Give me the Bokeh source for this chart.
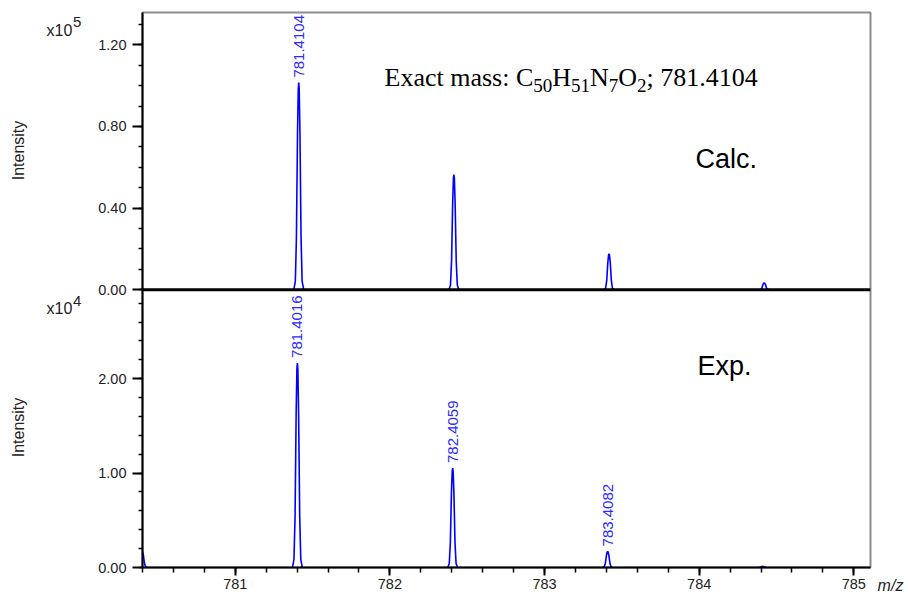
import numpy as np
from bokeh.plotting import figure
from bokeh.layouts import row
from bokeh.models import Range1d, FixedTicker, Label, Span, ColumnDataSource
from bokeh.embed import file_html
from bokeh.resources import INLINE
from bokeh.core.properties import value

# ---------------- data ----------------
# calculated isotope pattern (intensity in units of 1e5)
calc_mz = [781.4104, 782.4138, 783.4171, 784.4205]
calc_int = [1.015, 0.564, 0.175, 0.033]
calc_labels = ["781.4104", "", "", ""]

# experimental spectrum (intensity in units of 1e4)
exp_mz = [780.398, 781.4016, 782.4059, 783.4082, 784.410]
exp_int = [0.17, 2.167, 1.054, 0.170, 0.012]
exp_labels = ["", "781.4016", "782.4059", "783.4082", ""]

# peak profile: m/z offset from centre, relative height
profile_dx = [-0.032, -0.022, -0.015, -0.008, -0.003, 0.0, 0.003, 0.008, 0.015, 0.022, 0.032]
profile_rel = [0.0, 0.04, 0.25, 0.75, 0.97, 1.0, 0.97, 0.75, 0.25, 0.04, 0.0]

x_major = [781, 782, 783, 784, 785]
x_minor = [780.4, 780.6, 780.8, 781.0, 781.2, 781.4, 781.6, 781.8, 782.0, 782.2, 782.4,
           782.6, 782.8, 783.0, 783.2, 783.4, 783.6, 783.8, 784.0, 784.2, 784.4, 784.6,
           784.8, 785.0]
top_major = [0.0, 0.4, 0.8, 1.2]
top_minor = [0.0, 0.1, 0.2, 0.3, 0.4, 0.5, 0.6, 0.7, 0.8, 0.9, 1.0, 1.1, 1.2, 1.3]
bot_major = [0.0, 1.0, 2.0]
bot_minor = [0.0, 0.2, 0.4, 0.6, 0.8, 1.0, 1.2, 1.4, 1.6, 1.8, 2.0, 2.2, 2.4, 2.6, 2.8]

X_RANGE = (780.4, 785.108)
# one frame holds both panels: the top panel's range reaches below zero (into the
# lower half), the bottom panel's range reaches above its top (into the upper half)
TOP_RANGE = (-1.362, 1.3585)
BOT_RANGE = (0.0, 5.88)

PEAK_COLOR = "#0000ff"
LABEL_COLOR = "#2b2bff"
SANS = "Liberation Sans"
SERIF = "Liberation Serif"
TXT = "#222222"


def peak_lines(centres, heights):
    xs, ys = [], []
    for c, h in zip(centres, heights):
        xs.append([c + d for d in profile_dx])
        ys.append([h * r for r in profile_rel])
    return xs, ys


def to_shared(v):
    """position of a top-panel value on the shared (bottom-range) axis"""
    t0, t1 = TOP_RANGE
    b0, b1 = BOT_RANGE
    return b0 + (v - t0) / (t1 - t0) * (b1 - b0)


# ---------------- main figure ----------------
p = figure(width=777, height=600, output_backend="svg", toolbar_location=None,
           x_range=Range1d(*X_RANGE), y_range=Range1d(*BOT_RANGE),
           min_border_left=47, min_border_right=2, min_border_top=12, min_border_bottom=33)
p.extra_y_ranges = {"top": Range1d(*TOP_RANGE)}
p.xgrid.visible = False
p.ygrid.visible = False
p.outline_line_color = "#8c8c8c"
p.outline_line_width = 2

# y axis (carries the tick marks of both panels)
ya = p.yaxis[0]
y_ticks = list(bot_major) + [to_shared(t) for t in top_major]
y_minor = list(bot_minor) + [to_shared(t) for t in top_minor]
overrides = {float(v): f"{v:.2f}" for v in bot_major}
overrides.update({to_shared(t): f"{t:.2f}" for t in top_major})
ya.ticker = FixedTicker(ticks=y_ticks, minor_ticks=y_minor)
ya.major_label_overrides = overrides
for ax in (ya, p.xaxis[0]):
    ax.axis_line_color = "black"
    ax.axis_line_width = 2
    ax.major_tick_in = 0
    ax.minor_tick_in = 0
    ax.major_tick_line_width = 2
    ax.minor_tick_line_width = 1.5
    ax.major_tick_line_color = "black"
    ax.minor_tick_line_color = "black"
    ax.major_label_text_font = SANS
    ax.major_label_text_font_size = "14.5px"
    ax.major_label_text_color = TXT
ya.major_tick_out = 10
ya.minor_tick_out = 4
ya.major_label_standoff = 6

xa = p.xaxis[0]
xa.ticker = FixedTicker(ticks=x_major, minor_ticks=x_minor)
xa.major_tick_out = 8
xa.minor_tick_out = 5
xa.major_label_standoff = 3

# calculated spectrum (upper panel)
xs, ys = peak_lines(calc_mz, calc_int)
p.multi_line(xs, ys, line_color=PEAK_COLOR, line_width=1.6, y_range_name="top")
src1 = ColumnDataSource(dict(x=calc_mz, y=calc_int, t=calc_labels))
p.text(x="x", y="y", text="t", source=src1, angle=np.pi / 2, text_align="left",
       text_baseline="middle", y_offset=-5, text_color=LABEL_COLOR,
       text_font=value(SANS), text_font_size="15px", y_range_name="top")

# experimental spectrum (lower panel)
xs, ys = peak_lines(exp_mz, exp_int)
p.multi_line(xs, ys, line_color=PEAK_COLOR, line_width=1.6)
src2 = ColumnDataSource(dict(x=exp_mz, y=exp_int, t=exp_labels))
p.text(x="x", y="y", text="t", source=src2, angle=np.pi / 2, text_align="left",
       text_baseline="middle", y_offset=-5, text_color=LABEL_COLOR,
       text_font=value(SANS), text_font_size="15px")

# panel separator (x axis line of the upper panel)
p.add_layout(Span(location=0, dimension="width", y_range_name="top",
                  line_color="black", line_width=3))

# "Exact mass: C50H51N7O2; 781.4104" composed from pieces (subscripts smaller)
TNR_W = {"E": 611, "x": 500, "a": 444, "c": 444, "t": 278, " ": 250, "m": 778,
         "s": 389, ":": 278, "C": 667, "H": 722, "N": 722, "O": 722, ";": 278,
         ".": 250, "0": 500, "1": 500, "2": 500, "4": 500, "5": 500, "7": 500, "8": 500}
pieces = [("Exact mass: C", False), ("50", True), ("H", False), ("51", True),
          ("N", False), ("7", True), ("O", False), ("2", True), ("; 781.4104", False)]
FS_MAIN, FS_SUB = 26, 19
cx = 242.0
for txt, sub in pieces:
    fs = FS_SUB if sub else FS_MAIN
    p.add_layout(Label(x=cx, y=(482 if sub else 490), x_units="screen", y_units="screen",
                       text=txt, text_font=SERIF, text_font_size=f"{fs}px",
                       text_color="black", text_baseline="middle"))
    cx += sum(TNR_W[ch] for ch in txt) * fs / 1000.0

p.add_layout(Label(x=553, y=409, x_units="screen", y_units="screen", text="Calc.",
                   text_font=SANS, text_font_size="27px", text_color="black",
                   text_baseline="middle"))
p.add_layout(Label(x=555, y=202, x_units="screen", y_units="screen", text="Exp.",
                   text_font=SANS, text_font_size="27px", text_color="black",
                   text_baseline="middle"))


def text_fig(width):
    f = figure(width=width, height=600, output_backend="svg", toolbar_location=None,
               x_range=Range1d(0, width), y_range=Range1d(0, 600),
               x_axis_location=None, y_axis_location=None, min_border=0)
    f.xgrid.visible = False
    f.ygrid.visible = False
    f.outline_line_color = None
    return f


# ---------------- left strip: scale factors and axis titles ----------------
# (its frame is aligned with the main frame: page y 12 .. 567)
left = text_fig(95)
for ytxt, ysup, sup in [(537, 546, "5"), (259, 267, "4")]:
    left.add_layout(Label(x=46, y=ytxt, x_units="screen", y_units="screen", text="x10",
                          text_font=SANS, text_font_size="16px", text_color=TXT,
                          text_baseline="middle"))
    left.add_layout(Label(x=72.5, y=ysup, x_units="screen", y_units="screen", text=sup,
                          text_font=SANS, text_font_size="15px", text_color=TXT,
                          text_baseline="middle"))
for yc in (417, 140):
    left.add_layout(Label(x=18, y=yc, x_units="screen", y_units="screen", text="Intensity",
                          angle=np.pi / 2, text_font=SANS, text_font_size="16px",
                          text_color=TXT, text_align="center", text_baseline="middle"))

# ---------------- right strip: x axis unit as an axis title ----------------
right = figure(width=36, height=600, output_backend="svg", toolbar_location=None,
               x_range=Range1d(0, 1), y_range=Range1d(0, 1),
               y_axis_location=None, min_border=0)
right.xgrid.visible = False
right.ygrid.visible = False
right.outline_line_color = None
rx = right.xaxis[0]
rx.ticker = FixedTicker(ticks=[], minor_ticks=[])
rx.axis_line_color = None
rx.major_tick_line_color = None
rx.minor_tick_line_color = None
rx.axis_label = "m/z"
rx.axis_label_text_font = SANS
rx.axis_label_text_font_size = "16px"
rx.axis_label_text_font_style = "italic"
rx.axis_label_text_color = TXT
rx.axis_label_standoff = 9

layout = row(left, p, right, spacing=0)
open("out.html", "w").write(file_html(layout, INLINE))
